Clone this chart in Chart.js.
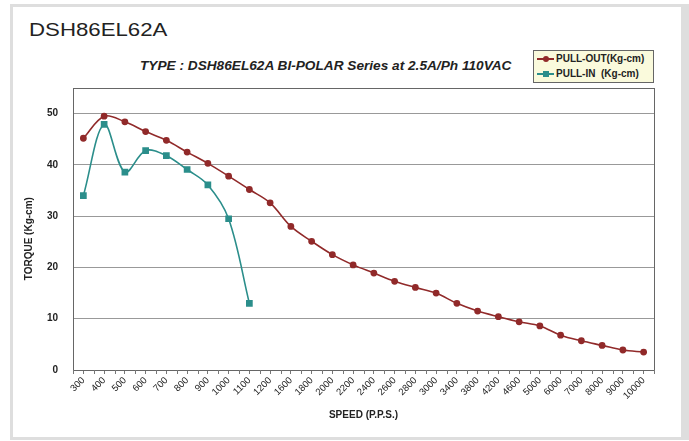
<!DOCTYPE html>
<html><head><meta charset="utf-8">
<script src="https://cdn.jsdelivr.net/npm/chart.js@4"></script>
<style>
html,body{margin:0;padding:0;background:#fff;width:689px;height:441px;overflow:hidden;font-family:"Liberation Sans",Arial,sans-serif}
#frame{position:absolute;left:10px;top:4px;width:668px;height:430px;border-style:solid;border-color:#dedede;border-width:3px 8px 3px 3px;}
#title{position:absolute;left:29px;top:20px;font-size:19px;line-height:19px;transform:scaleX(1.17);transform-origin:left top;color:#222;white-space:nowrap}
#sub{position:absolute;left:140px;top:58px;font-size:13px;line-height:15px;font-weight:bold;font-style:italic;color:#222;white-space:nowrap;transform:scaleX(1.05);transform-origin:left top}
#legend{position:absolute;left:533px;top:50px;width:119px;height:31px;background:#fafadc;border:1px solid #666;font-size:10px;font-weight:bold;color:#222}
.row{position:absolute;left:3px;height:14px;line-height:14px;white-space:pre}
.sw{position:absolute;left:0;top:6px;width:17px;height:2px}
.mk{position:absolute;left:6px;top:4px;width:6px;height:6px}
.lt{position:absolute;left:19px;top:0;white-space:pre}
#c{position:absolute;left:0;top:0}
</style></head>
<body>
<div id="frame"></div>
<div id="title">DSH86EL62A</div>
<div id="sub">TYPE : DSH86EL62A BI-POLAR Series at 2.5A/Ph 110VAC</div>
<div id="legend"></div>
<canvas id="c" width="689" height="441"></canvas>
<script>
const categories = ['300','400','500','600','700','800','900','1000','1100','1200','1600','1800','2000','2200','2400','2600','2800','3000','3400','3800','4200','4600','5000','6000','7000','8000','9000','10000'];
const pullOut = [45.2,49.5,48.4,46.5,44.8,42.5,40.3,37.8,35.2,32.6,28.0,25.1,22.5,20.5,18.9,17.3,16.1,15.0,13.0,11.5,10.4,9.4,8.6,6.8,5.7,4.8,3.9,3.5];
const pullIn = [34.0,47.9,38.6,42.8,41.8,39.1,36.1,29.5,13.0];
const yTicks = [0,10,20,30,40,50];
const seriesNames = ['PULL-OUT(Kg-cm)','PULL-IN  (Kg-cm)'];
const seriesColors = ['#912a2a','#2b8e8b'];

// legend (HTML)
const lg = document.getElementById('legend');
seriesNames.forEach((n,i)=>{
  const r = document.createElement('div'); r.className='row'; r.style.top=(i*15+1)+'px';
  const sw = document.createElement('div'); sw.className='sw'; sw.style.background=seriesColors[i];
  const mk = document.createElement('div'); mk.className='mk'; mk.style.background=seriesColors[i];
  if(i===0) mk.style.borderRadius='50%';
  const t = document.createElement('span'); t.className='lt'; t.textContent=n;
  r.appendChild(sw); r.appendChild(mk); r.appendChild(t); lg.appendChild(r);
});

const framePlugin = {
  id:'frameBox',
  afterDatasetsDraw(chart){
    const {ctx, chartArea:a, scales:{x}} = chart;
    ctx.save();
    ctx.strokeStyle='#666'; ctx.lineWidth=1;
    ctx.strokeRect(Math.round(a.left)+0.5, Math.round(a.top)+0.5, Math.round(a.right-a.left), Math.round(a.bottom-a.top));
    ctx.strokeStyle='#777';
    for(let i=0;i<=categories.length;i++){
      const px = Math.round(x.getPixelForValue(i-0.5))+0.5;
      ctx.beginPath(); ctx.moveTo(px, a.bottom); ctx.lineTo(px, a.bottom+4); ctx.stroke();
    }
    ctx.restore();
  }
};

new Chart(document.getElementById('c'), {
  type:'line',
  data:{
    labels: categories,
    datasets:[
      {label:seriesNames[0], data:pullOut, borderColor:seriesColors[0], backgroundColor:seriesColors[0], borderWidth:1.6, pointStyle:'circle', pointRadius:2.6, tension:0.35},
      {label:seriesNames[1], data:pullIn, borderColor:seriesColors[1], backgroundColor:seriesColors[1], borderWidth:1.6, pointStyle:'rect', pointRadius:3.6, tension:0.35}
    ]
  },
  options:{
    responsive:false, animation:false, devicePixelRatio:1,
    layout:{padding:{left:19, top:88, right:35, bottom:0}},
    plugins:{legend:{display:false}, tooltip:{enabled:false}},
    scales:{
      x:{
        offset:true,
        grid:{display:true, drawOnChartArea:false, drawTicks:true, tickLength:4, offset:false, color:'#777'},
        border:{color:'#666'},
        ticks:{autoSkip:false, minRotation:45, maxRotation:45, padding:1, color:'#222', font:{family:'"Liberation Sans", Arial', size:9.5}},
        title:{display:true, text:'SPEED (P.P.S.)', color:'#222', font:{family:'"Liberation Sans", Arial', size:10, weight:'bold'}, padding:{top:4,bottom:20}},
        afterFit(s){ s.height = 71; }
      },
      y:{
        min:0, max:55,
        afterBuildTicks(s){ s.ticks = yTicks.map(v=>({value:v})); },
        grid:{color:'#999', drawTicks:false, lineWidth:1},
        border:{color:'#666'},
        ticks:{padding:15, color:'#222', font:{family:'"Liberation Sans", Arial', size:10, weight:'bold'}},
        title:{display:true, text:'TORQUE (Kg-cm)       ', color:'#222', font:{family:'"Liberation Sans", Arial', size:10, weight:'bold'}, padding:{top:4,bottom:4}},
        afterFit(s){ s.width = 54; }
      }
    }
  },
  plugins:[framePlugin]
});
</script>
</body></html>
